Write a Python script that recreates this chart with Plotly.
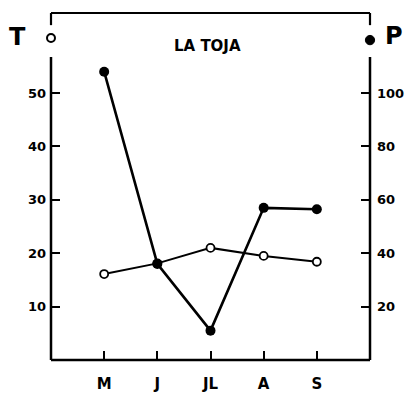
import plotly.graph_objects as go

months = ["M", "J", "JL", "A", "S"]
month_pos = [1, 2, 3, 4, 5]
temp_T = [16.1, 18.1, 21.0, 19.5, 18.4]
precip_P = [108, 36, 11, 57, 56.5]
t_ticks = [10, 20, 30, 40, 50]
p_ticks = [20, 40, 60, 80, 100]

FONT = "DejaVu Sans"
fig = go.Figure()
fig.add_trace(go.Scatter(
    x=month_pos, y=precip_P, yaxis="y2", mode="lines+markers",
    line=dict(color="black", width=2.6),
    marker=dict(color="black", size=10, symbol="circle"),
    showlegend=False))
fig.add_trace(go.Scatter(
    x=month_pos, y=temp_T, mode="lines+markers",
    line=dict(color="black", width=2),
    marker=dict(color="white", size=8, symbol="circle", line=dict(color="black", width=1.8)),
    showlegend=False))

ax_top = 0.873
rx, ry = 0.0125, 0.0115
shapes = [
    dict(type="line", xref="paper", yref="paper", x0=0, x1=1, y0=1, y1=1, line=dict(color="black", width=2.2)),
    dict(type="line", xref="paper", yref="paper", x0=0, x1=0, y0=1, y1=0.965, line=dict(color="black", width=2.2)),
    dict(type="line", xref="paper", yref="paper", x0=1, x1=1, y0=1, y1=0.965, line=dict(color="black", width=2.2)),
    dict(type="line", xref="paper", yref="paper", x0=0, x1=0, y0=0, y1=ax_top, line=dict(color="black", width=2.5)),
    dict(type="line", xref="paper", yref="paper", x0=1, x1=1, y0=0, y1=ax_top, line=dict(color="black", width=2.5)),
    dict(type="line", xref="paper", yref="paper", x0=0, x1=1, y0=0, y1=0, line=dict(color="black", width=2.5)),
    # legend-like symbols next to T and P
    dict(type="circle", xref="paper", yref="paper", x0=-rx, x1=rx, y0=0.928 - ry, y1=0.928 + ry,
         fillcolor="white", line=dict(color="black", width=2)),
    dict(type="circle", xref="paper", yref="paper", x0=1 - rx - 0.002, x1=1 + rx + 0.002,
         y0=0.922 - ry - 0.002, y1=0.922 + ry + 0.002,
         fillcolor="black", line=dict(color="black", width=1)),
]

fig.update_layout(
    width=407, height=387,
    margin=dict(l=43, r=45, t=5, b=35, autoexpand=False),
    paper_bgcolor="white", plot_bgcolor="white",
    font=dict(family=FONT, color="black", size=13),
    shapes=shapes,
    xaxis=dict(range=[0, 6], tickvals=month_pos, ticktext=months,
               showgrid=False, zeroline=False, showline=False,
               ticks="inside", ticklen=9, tickwidth=2, tickcolor="black",
               tickfont=dict(size=15, family=FONT, weight="bold"), ticklabelstandoff=13),
    yaxis=dict(range=[0, 65], tickvals=t_ticks, showgrid=False, zeroline=False, showline=False,
               ticks="inside", ticklen=9, tickwidth=2, tickcolor="black",
               tickfont=dict(size=13, family=FONT, weight="bold"), ticklabelstandoff=4),
    yaxis2=dict(range=[0, 130], tickvals=p_ticks, overlaying="y", side="right",
                showgrid=False, zeroline=False, showline=False,
                ticks="inside", ticklen=9, tickwidth=2, tickcolor="black",
                tickfont=dict(size=13, family=FONT, weight="bold"), ticklabelstandoff=6),
    annotations=[
        dict(text="LA TOJA", xref="paper", yref="paper", x=0.49, y=0.905, showarrow=False,
             font=dict(size=15, family=FONT, weight="bold"), xanchor="center", yanchor="middle"),
        dict(text="T", xref="paper", yref="paper", x=-0.105, y=0.93, showarrow=False,
             font=dict(size=24, family=FONT, weight="bold"), xanchor="center", yanchor="middle"),
        dict(text="P", xref="paper", yref="paper", x=1.075, y=0.935, showarrow=False,
             font=dict(size=24, family=FONT, weight="bold"), xanchor="center", yanchor="middle"),
    ],
)
fig.write_html("out.html")
